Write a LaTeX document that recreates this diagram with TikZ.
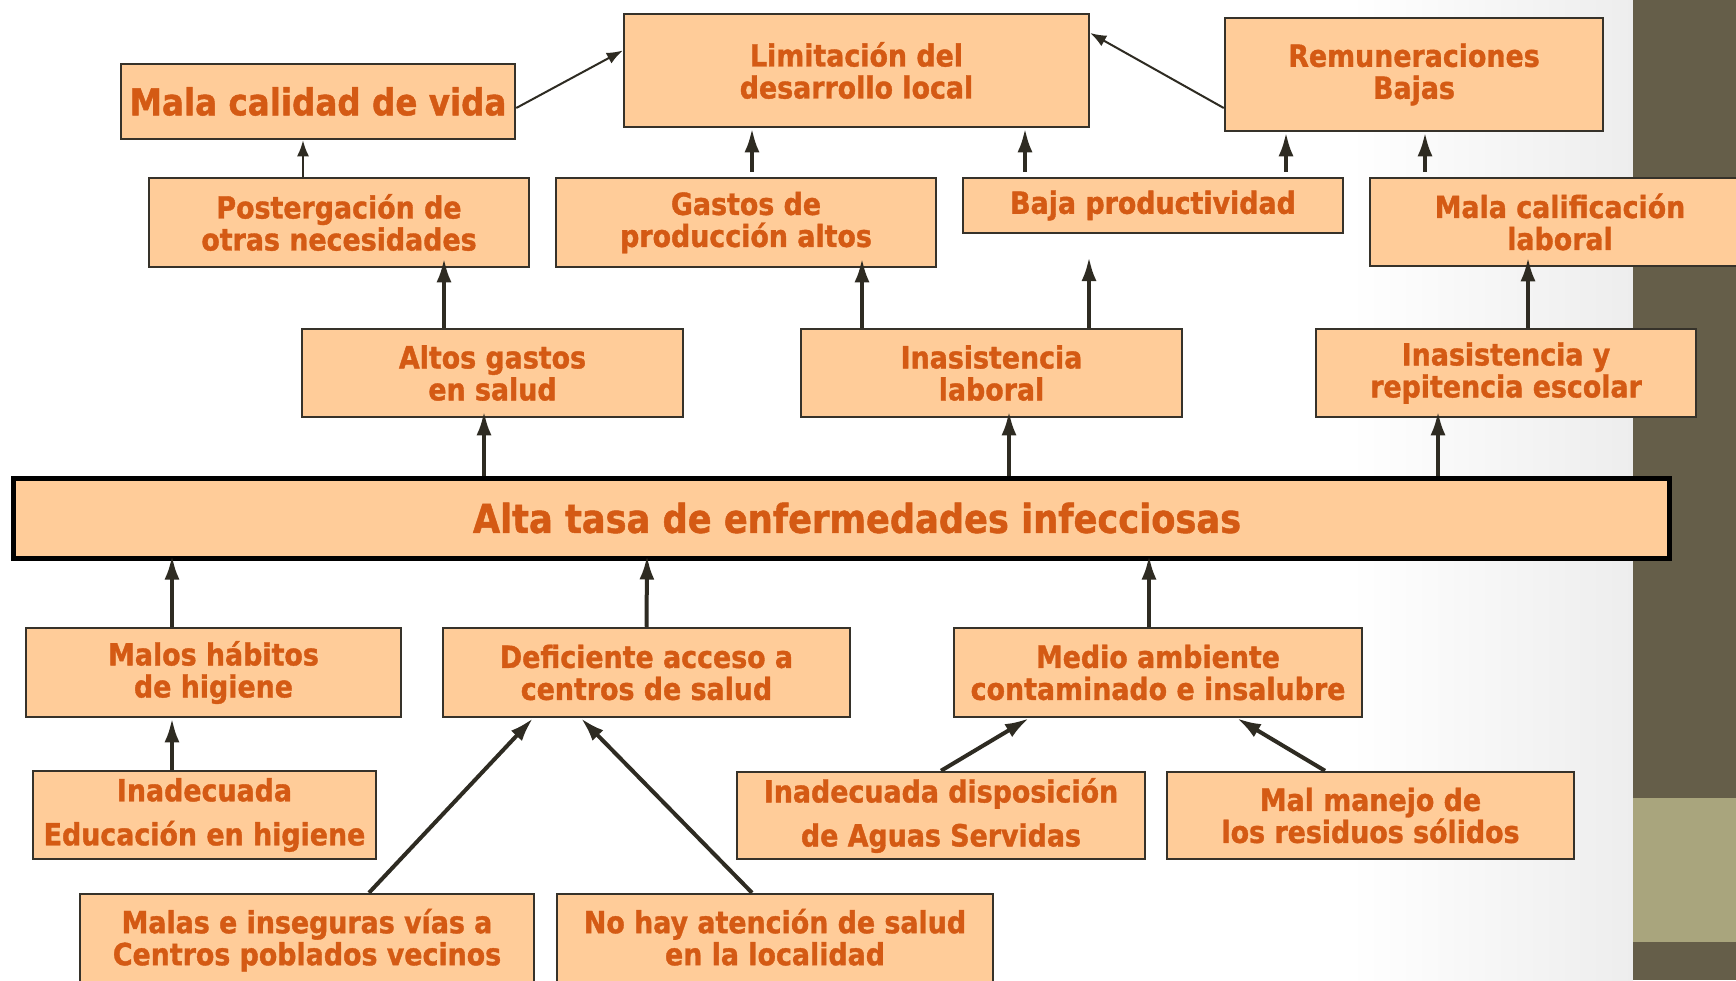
\documentclass[tikz,border=0pt]{standalone}
\usepackage{fontspec}
\setmainfont{DejaVu Sans}[FakeStretch=0.88, BoldFeatures={FakeBold=1.2}]
\usetikzlibrary{arrows.meta}
\definecolor{peach}{HTML}{FFCC99}
\definecolor{txt}{HTML}{D45A14}
\definecolor{boxline}{HTML}{36322A}
\definecolor{arrc}{HTML}{2E2B22}
\definecolor{olivedark}{HTML}{655E49}
\definecolor{olivelight}{HTML}{A9A57D}
\tikzset{
  box/.style={draw=boxline, line width=2.5pt, fill=peach, text=txt,
    font=\fontsize{30.5}{32}\selectfont\bfseries, align=center, inner sep=0pt},
  arr/.style={draw=arrc, line width=4pt, -{Latex[length=24pt,width=15pt]}},
  tarr/.style={draw=arrc, line width=2pt, -{Latex[length=16pt,width=12pt]}},
}
\begin{document}
\begin{tikzpicture}[x=1pt,y=-1pt]
\useasboundingbox (0,0) rectangle (1736,980);
% background
\fill[white] (0,0) rectangle (1736,980);
\shade[left color=white, right color=black!7] (1350,0) rectangle (1633,980);
\fill[olivedark] (1633,0) rectangle (1736,980);
\fill[olivelight] (1633,798) rectangle (1736,942);

% top row
\node[box, minimum width=394pt, minimum height=75pt, font=\fontsize{37}{40}\selectfont\bfseries] (mala) at (318,101.5) {Mala calidad de vida};
\node[box, minimum width=465pt, minimum height=113pt] (limit) at (856.5,70.5) {Limitación del\\desarrollo local};
\node[box, minimum width=378pt, minimum height=113pt] (remun) at (1414,74.5) {Remuneraciones\\Bajas};
% second row
\node[box, minimum width=380pt, minimum height=89pt] (poster) at (339,222.5) {Postergación de\\otras necesidades};
\node[box, minimum width=380pt, minimum height=89pt] (gastos) at (746,222.5) {Gastos de\\producción altos};
\node[box, minimum width=380pt, minimum height=55pt] (baja) at (1153,205.5) {Baja productividad};
\node[box, minimum width=380pt, minimum height=88pt] (malacal) at (1560,222) {Mala calificación\\laboral};
% third row
\node[box, minimum width=381pt, minimum height=88pt] (altos) at (492.5,373) {Altos gastos\\en salud};
\node[box, minimum width=381pt, minimum height=88pt] (inlab) at (991.5,373) {Inasistencia\\laboral};
\node[box, minimum width=380pt, minimum height=88pt] (inrep) at (1506,373) {Inasistencia y\\repitencia escolar};
% main problem
\node[box, draw=black, line width=5pt, minimum width=1656pt, minimum height=80pt, font=\fontsize{40}{44}\selectfont\bfseries] (main) at (841,518) {\hspace*{32pt}Alta tasa de enfermedades infecciosas};
% causes
\node[box, minimum width=375pt, minimum height=89pt] (malos) at (213.5,672.5) {Malos hábitos\\de higiene};
\node[box, minimum width=407pt, minimum height=89pt] (defic) at (646.5,672.5) {Deficiente acceso a\\centros de salud};
\node[box, minimum width=408pt, minimum height=89pt] (medio) at (1158,672.5) {Medio ambiente\\contaminado e insalubre};
\node[box, minimum width=343pt, minimum height=88pt] (inedu) at (204.5,815) {Inadecuada\\[12pt]Educación en higiene};
\node[box, minimum width=408pt, minimum height=87pt] (indisp) at (941,815.5) {Inadecuada disposición\\[12pt]de Aguas Servidas};
\node[box, minimum width=407pt, minimum height=87pt] (malman) at (1370.5,815.5) {Mal manejo de\\los residuos sólidos};
\node[box, minimum width=454pt, minimum height=106pt] (malas) at (307,947) {Malas e inseguras vías a\\Centros poblados vecinos\\[-12pt]\mbox{}};
\node[box, minimum width=436pt, minimum height=106pt] (nohay) at (775,947) {No hay atención de salud\\en la localidad\\[-12pt]\mbox{}};

\coordinate (free) at (1089,257);

% effects arrows (top)
\draw[tarr] ([xshift=-36pt]poster.north) -- ([xshift=-15pt]mala.south);
\draw[tarr] ([yshift=-6.5pt]mala.east) -- ([yshift=20pt]limit.west);
\draw[tarr] ([yshift=-33.5pt]remun.west) -- ([yshift=37.5pt]limit.east);
\draw[arr, shorten <=5pt] ([xshift=6pt]gastos.north) -- ([xshift=-104.5pt]limit.south);
\draw[arr, shorten <=5pt] ([xshift=-128pt]baja.north) -- ([xshift=168.5pt]limit.south);
\draw[arr, shorten <=5pt] ([xshift=133pt]baja.north) -- ([xshift=-128pt]remun.south);
\draw[arr, shorten <=5pt] ([xshift=-135pt]malacal.north) -- ([xshift=11pt]remun.south);
% middle arrows
\draw[arr, shorten >=-10pt] ([xshift=-48.5pt]altos.north) -- ([xshift=105pt]poster.south);
\draw[arr, shorten >=-10pt] ([xshift=-129.5pt]inlab.north) -- ([xshift=116pt]gastos.south);
\draw[arr] ([xshift=97.5pt]inlab.north) -- (free);
\draw[arr, shorten >=-10pt] ([xshift=22pt]inrep.north) -- ([xshift=-32pt]malacal.south);
% main to consequences
\draw[arr, shorten >=-7pt] ([xshift=-357pt]main.north) -- ([xshift=-8.5pt]altos.south);
\draw[arr, shorten >=-7pt] ([xshift=168pt]main.north) -- ([xshift=17.5pt]inlab.south);
\draw[arr, shorten >=-7pt] ([xshift=597pt]main.north) -- ([xshift=-68pt]inrep.south);
% causes to main
\draw[arr, shorten >=-5pt] ([xshift=-41.5pt]malos.north) -- ([xshift=-669pt]main.south);
\draw[arr, shorten >=-5pt] (defic.north) -- ([xshift=-194pt]main.south);
\draw[arr, shorten >=-5pt] ([xshift=-9pt]medio.north) -- ([xshift=308pt]main.south);
% root causes
\draw[arr] ([xshift=-32.5pt]inedu.north) -- ([xshift=-41.5pt]malos.south);
\draw[arr] ([xshift=62pt]malas.north) -- ([xshift=-113.5pt]defic.south);
\draw[arr] ([xshift=-23pt]nohay.north) -- ([xshift=-65.5pt]defic.south);
\draw[arr] (indisp.north) -- ([xshift=-129pt]medio.south);
\draw[arr] ([xshift=-45.5pt]malman.north) -- ([xshift=79pt]medio.south);
\end{tikzpicture}
\end{document}
